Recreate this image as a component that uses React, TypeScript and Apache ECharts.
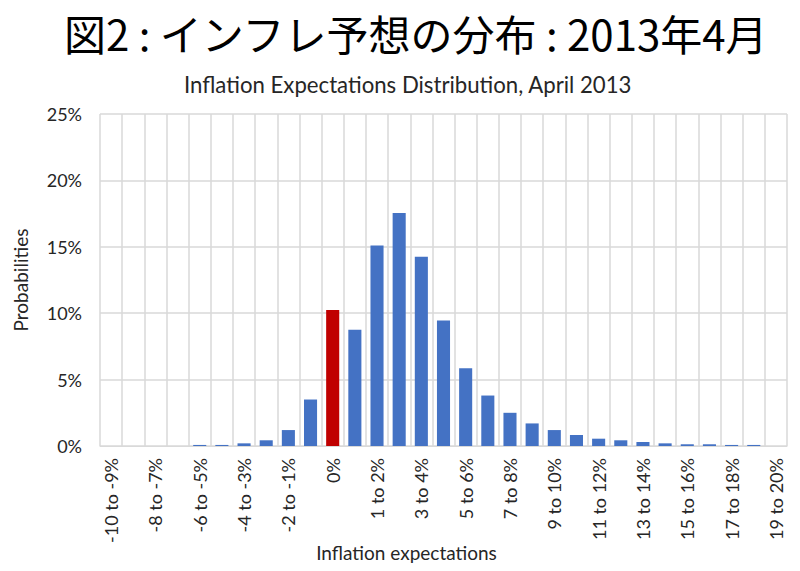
import React, { useEffect, useRef } from "react";
import * as echarts from "echarts";

const categories: string[] = [
  "-10 to -9%", "-9 to -8%", "-8 to -7%", "-7 to -6%", "-6 to -5%",
  "-5 to -4%", "-4 to -3%", "-3 to -2%", "-2 to -1%", "-1 to 0%",
  "0%",
  "0 to 1%", "1 to 2%", "2 to 3%", "3 to 4%", "4 to 5%",
  "5 to 6%", "6 to 7%", "7 to 8%", "8 to 9%", "9 to 10%",
  "10 to 11%", "11 to 12%", "12 to 13%", "13 to 14%", "14 to 15%",
  "15 to 16%", "16 to 17%", "17 to 18%", "18 to 19%", "19 to 20%",
];

const probabilities: number[] = [
  0, 0, 0, 0, 0.08,
  0.08, 0.2, 0.43, 1.2, 3.5,
  10.25,
  8.75, 15.1, 17.55, 14.25, 9.45,
  5.85, 3.8, 2.5, 1.7, 1.2,
  0.83, 0.55, 0.43, 0.3, 0.2,
  0.13, 0.13, 0.08, 0.08, 0,
];

const highlightCategory = "0%";
const yTicks = { min: 0, max: 25, interval: 5 };

const mainTitle = "図2 : インフレ予想の分布 : 2013年4月";
const subTitle = "Inflation Expectations Distribution, April 2013";
const xName = "Inflation expectations";
const yName = "Probabilities";

const FONT = "Lato, 'Noto Sans', sans-serif";

export default function App() {
  const ref = useRef<HTMLDivElement>(null);
  useEffect(() => {
    if (!ref.current) return;
    const chart = echarts.init(ref.current, undefined, { renderer: "svg" });
    chart.setOption({
      animation: false,
      backgroundColor: "#ffffff",
      title: [
        {
          text: mainTitle,
          left: 64,
          top: 8,
          padding: 0,
          textStyle: {
            fontFamily: "'Noto Sans CJK JP', sans-serif",
            fontSize: 42,
            lineHeight: 48,
            fontWeight: "normal",
            color: "#000000",
          },
        },
        {
          text: subTitle,
          left: 179,
          top: 68,
          textStyle: {
            fontFamily: FONT,
            fontSize: 22.2,
            fontWeight: "normal",
            color: "#262626",
          },
        },
      ],
      grid: { left: 100, right: 13, top: 114, bottom: 125, show: false, outerBoundsMode: "none" },
      xAxis: {
        type: "category",
        data: categories,
        name: xName,
        nameLocation: "middle",
        nameGap: 97,
        nameMoveOverlap: false,
        nameTextStyle: {
          fontFamily: FONT,
          fontSize: 19,
          color: "#262626",
          padding: [0, 74, 0, 0],
        },
        axisLine: { show: true, lineStyle: { color: "#d9d9d9", width: 1 } },
        axisTick: { show: false },
        splitLine: { show: true, interval: 0, lineStyle: { color: "#d9d9d9", width: 1.5 } },
        axisLabel: {
          interval: 1,
          rotate: 90,
          margin: 12,
          fontFamily: FONT,
          fontSize: 18,
          color: "#262626",
        },
      },
      yAxis: {
        type: "value",
        min: yTicks.min,
        max: yTicks.max,
        interval: yTicks.interval,
        name: yName,
        nameLocation: "middle",
        nameGap: 70,
        nameMoveOverlap: false,
        nameTextStyle: { fontFamily: FONT, fontSize: 19, color: "#262626" },
        axisLine: { show: false },
        axisTick: { show: false },
        splitLine: { show: true, lineStyle: { color: "#d9d9d9", width: 1.5 } },
        axisLabel: {
          formatter: "{value}%",
          margin: 18,
          fontFamily: FONT,
          fontSize: 18,
          color: "#262626",
        },
      },
      series: [
        {
          type: "bar",
          barCategoryGap: "41%",
          data: probabilities.map((v, i) => ({
            value: v,
            itemStyle: { color: categories[i] === highlightCategory ? "#c00000" : "#4472c4" },
          })),
        },
      ],
    });
    return () => chart.dispose();
  }, []);
  return (
    <div
      ref={ref}
      style={{ position: "fixed", left: 0, top: 0, width: 800, height: 571 }}
    />
  );
}
